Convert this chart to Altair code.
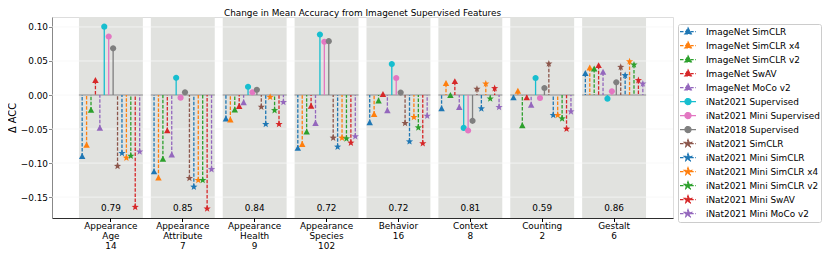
import math
import altair as alt
import pandas as pd

# ---------------- data ----------------
models = [
    "ImageNet SimCLR", "ImageNet SimCLR x4", "ImageNet SimCLR v2", "ImageNet SwAV",
    "ImageNet MoCo v2", "iNat2021 Supervised", "iNat2021 Mini Supervised",
    "iNat2018 Supervised", "iNat2021 SimCLR", "iNat2021 Mini SimCLR",
    "iNat2021 Mini SimCLR x4", "iNat2021 Mini SimCLR v2", "iNat2021 Mini SwAV",
    "iNat2021 Mini MoCo v2",
]
colors = ["#1f77b4", "#ff7f0e", "#2ca02c", "#d62728", "#9467bd", "#17becf", "#e377c2",
          "#7f7f7f", "#8c564b", "#1f77b4", "#ff7f0e", "#2ca02c", "#d62728", "#9467bd"]
marker_kind = ["triangle"] * 5 + ["circle"] * 3 + ["star"] * 6

categories = ["Appearance|Age", "Appearance|Attribute", "Appearance|Health",
              "Appearance|Species", "Behavior", "Context", "Counting", "Gestalt"]
counts = [14, 7, 9, 102, 16, 8, 2, 6]
scores = ["0.79", "0.85", "0.84", "0.72", "0.72", "0.81", "0.59", "0.86"]

age = [-0.0905, -0.074, -0.0227, 0.021, -0.049, 0.1004, 0.086, 0.0686,
       -0.1045, -0.0855, -0.0923, -0.0896, -0.1647, -0.0833]
attribute = [-0.1131, -0.1223, -0.0947, -0.0529, -0.0883, 0.0252, -0.0039, 0.0039,
             -0.1223, -0.135, -0.1252, -0.1252, -0.167, -0.1092]
health = [-0.0354, -0.0369, -0.0223, -0.017, -0.0117, 0.0121, 0.0039, 0.0078,
          -0.0175, -0.043, -0.003, -0.0225, -0.043, -0.0107]
species = [-0.0786, -0.0728, -0.0547, -0.0166, -0.042, 0.0889, 0.0781, 0.0791,
           -0.063, -0.0762, -0.063, -0.064, -0.0703, -0.061]
behavior = [-0.041, -0.0287, -0.009, 0.0005, -0.0234, 0.0454, 0.0249, 0.0035,
            -0.0415, -0.0684, -0.0327, -0.0479, -0.0713, -0.0308]
context = [-0.0205, 0.0166, -0.001, 0.0195, -0.0186, -0.0483, -0.0522, -0.038,
           0.0088, -0.02, 0.0166, -0.0054, 0.0098, -0.018]
counting = [-0.0044, 0.0054, -0.0454, -0.0044, -0.0151, 0.0249, -0.0044, 0.0103,
            0.0459, -0.0298, -0.0298, -0.0347, -0.0498, -0.0244]
gestalt = [0.0313, 0.0396, 0.0381, 0.043, 0.0332, -0.0054, 0.0054, 0.0186,
           0.041, 0.0288, 0.0493, 0.0444, 0.0215, 0.0166]
series = [age, attribute, health, species, behavior, context, counting, gestalt]

y_ticks = [-0.15, -0.10, -0.05, 0.0, 0.05, 0.10]


# ---------------- marker paths ----------------
def star_path(ro, ri):
    pts = []
    for k in range(10):
        r = ro if k % 2 == 0 else ri
        a = -math.pi / 2 + k * math.pi / 5
        pts.append(f"{r*math.cos(a):.3f},{r*math.sin(a):.3f}")
    return "M" + "L".join(pts) + "Z"


def tri_path(s):
    return f"M0,{-s:.3f}L{0.9*s:.3f},{0.65*s:.3f}L{-0.9*s:.3f},{0.65*s:.3f}Z"


def circ_path(r):
    return f"M{r},0A{r},{r},0,1,1,{-r},0A{r},{r},0,1,1,{r},0Z"


point_shape = {"triangle": tri_path(1.0), "circle": circ_path(0.85), "star": star_path(1.05, 0.44)}
legend_shape = {"triangle": tri_path(0.46), "circle": circ_path(0.38),
                "star": star_path(0.48, 0.2)}

# ---------------- tables ----------------
cat_labels = [f"{c}|{n}" for c, n in zip(categories, counts)]
rows = []
for ci, lab in enumerate(cat_labels):
    for mi, m in enumerate(models):
        rows.append({"cat": lab, "model": m, "value": series[ci][mi],
                     "kind": marker_kind[mi]})
df = pd.DataFrame(rows)
cat_df = pd.DataFrame({"cat": cat_labels, "score": scores})
grid_df = pd.DataFrame({"value": y_ticks})
legend_df = pd.DataFrame({"model": models})

legend_shapes = ["M-1,0L1,0" + legend_shape[k] for k in marker_kind]
dash_range = [[1, 0] if k == "circle" else [3.5, 1.6] for k in marker_kind]

W, H = 621, 201
FONT = "DejaVu Sans"
FS = 8.9

x_enc = alt.X(
    "cat:N", sort=cat_labels,
    scale=alt.Scale(domain=cat_labels, paddingInner=0.111, paddingOuter=0.375),
    axis=alt.Axis(title=None, labelExpr="split(datum.label, '|')", labelAngle=0,
                  labelFontSize=FS, labelFont=FONT, labelColor="black",
                  labelLineHeight=10, labelBaseline="top", labelPadding=0,
                  tickSize=3.5, tickColor="black", domainColor="black",
                  domainWidth=0.8, grid=False),
)
xoff = alt.XOffset("model:N", sort=models,
                   scale=alt.Scale(domain=models, paddingInner=0, paddingOuter=0.225))
y_scale = alt.Scale(domain=[-0.1807, 0.1146], nice=False, zero=False)
y_axis = alt.Axis(title="Δ ACC", values=y_ticks, format=".2f", grid=False,
                  labelFontSize=FS, labelFont=FONT, labelColor="black",
                  tickSize=3.5, tickColor="#888888", domainColor="#888888",
                  labelPadding=1, titleFontSize=9.8, titleFont=FONT,
                  titleFontWeight="normal", titleColor="black",
                  titleX=-40, titleY=H / 2, titleBaseline="middle", titleAnchor="middle")
y_enc = alt.Y("value:Q", scale=y_scale, axis=y_axis, title="Δ ACC")
color_enc = alt.Color("model:N", scale=alt.Scale(domain=models, range=colors), legend=None)

bands = alt.Chart(cat_df).mark_bar(color="#e1e2df").encode(
    x=x_enc, y=alt.value(0), y2=alt.value(H))

grid = alt.Chart(grid_df).mark_rule(color="#f6f6f6", strokeWidth=0.8).encode(y=y_enc)

baseline = alt.Chart(cat_df).mark_tick(
    orient="horizontal", size=64, thickness=1.6, color="#8a8a8a").encode(
    x=x_enc, y=alt.datum(0))

dashed_stems = alt.Chart(df).transform_filter("datum.kind != 'circle'").mark_rule(
    strokeDash=[3.5, 1.6], strokeWidth=1.3).encode(
    x=x_enc, xOffset=xoff, y=y_enc, y2=alt.datum(0), color=color_enc)

solid_stems = alt.Chart(df).transform_filter("datum.kind == 'circle'").mark_rule(
    strokeWidth=1.3).encode(
    x=x_enc, xOffset=xoff, y=y_enc, y2=alt.datum(0), color=color_enc)


def marker_layer(kind):
    return alt.Chart(df).transform_filter(f"datum.kind == '{kind}'").mark_point(
        filled=True, opacity=1, size=52, shape=point_shape[kind]).encode(
        x=x_enc, xOffset=xoff, y=y_enc, color=color_enc)


score_text = alt.Chart(cat_df).mark_text(
    fontSize=FS, font=FONT, color="black", baseline="middle").encode(
    x=x_enc, y=alt.value(190.5), text="score:N")

leg = alt.Legend(title=None, orient="none", legendX=626, legendY=7, padding=1,
                 strokeColor="#cccccc", fillColor="white", cornerRadius=2,
                 labelFont=FONT, labelFontSize=FS, labelColor="black",
                 symbolSize=256, symbolStrokeWidth=1.2, clipHeight=13.1,
                 rowPadding=0, labelOffset=9, symbolOpacity=1)
legend_layer = alt.Chart(legend_df).transform_filter("false").mark_point(
    filled=True, opacity=1).encode(
    color=alt.Color("model:N", scale=alt.Scale(domain=models, range=colors), legend=leg),
    stroke=alt.Stroke("model:N", scale=alt.Scale(domain=models, range=colors), legend=leg),
    shape=alt.Shape("model:N", scale=alt.Scale(domain=models, range=legend_shapes), legend=leg),
    strokeDash=alt.StrokeDash("model:N", scale=alt.Scale(domain=models, range=dash_range), legend=leg),
)

chart = alt.layer(
    bands, grid, baseline, dashed_stems, solid_stems,
    marker_layer("triangle"), marker_layer("circle"), marker_layer("star"),
    score_text, legend_layer
).resolve_scale(
    color="independent", stroke="independent", shape="independent", strokeDash="independent"
).properties(
    width=W, height=H,
    autosize=alt.AutoSizeParams(type="none"),
    padding={"left": 44, "top": 9, "right": 149, "bottom": 32},
    title=alt.TitleParams("Change in Mean Accuracy from Imagenet Supervised Features",
                          fontSize=FS, font=FONT, fontWeight="normal", color="black",
                          anchor="middle", offset=3, dy=3.5),
).configure_view(stroke="#222222", strokeWidth=0.8).configure(font=FONT, background="white")

chart.save("out.html", embed_options={"renderer": "svg", "actions": False})
